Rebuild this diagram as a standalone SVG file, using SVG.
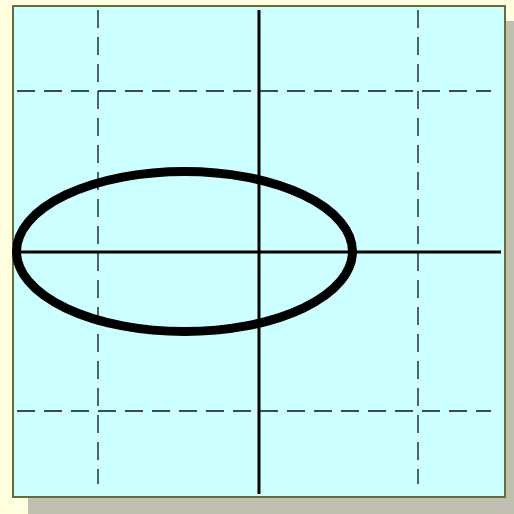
<svg xmlns="http://www.w3.org/2000/svg" width="514" height="514" viewBox="0 0 514 514">
<style>
.grid{stroke:#111;stroke-width:1.3;stroke-dasharray:18 9;fill:none}
.axis{stroke:#000;stroke-width:3;fill:none}
</style>
<rect x="0" y="0" width="514" height="514" fill="#FFFFE0"/>
<rect x="28" y="21" width="492" height="500" fill="#BFBFAF"/>
<g id="panel">
<rect x="13" y="6" width="492" height="491" fill="#CCFFFF" stroke="#6B6B3A" stroke-width="2"/>
</g>
<g id="grid">
<line class="grid" x1="98" y1="10" x2="98" y2="484"/>
<line class="grid" x1="418" y1="10" x2="418" y2="484"/>
<line class="grid" x1="17" y1="91" x2="491" y2="91"/>
<line class="grid" x1="17" y1="411" x2="491" y2="411"/>
</g>
<g id="axes">
<line class="axis" x1="259" y1="10" x2="259" y2="494"/>
<line class="axis" x1="15" y1="252" x2="501" y2="252"/>
</g>
<g id="ellipse">
<ellipse cx="184.5" cy="251.5" rx="168" ry="80" fill="none" stroke="#000" stroke-width="9"/>
</g>
</svg>
